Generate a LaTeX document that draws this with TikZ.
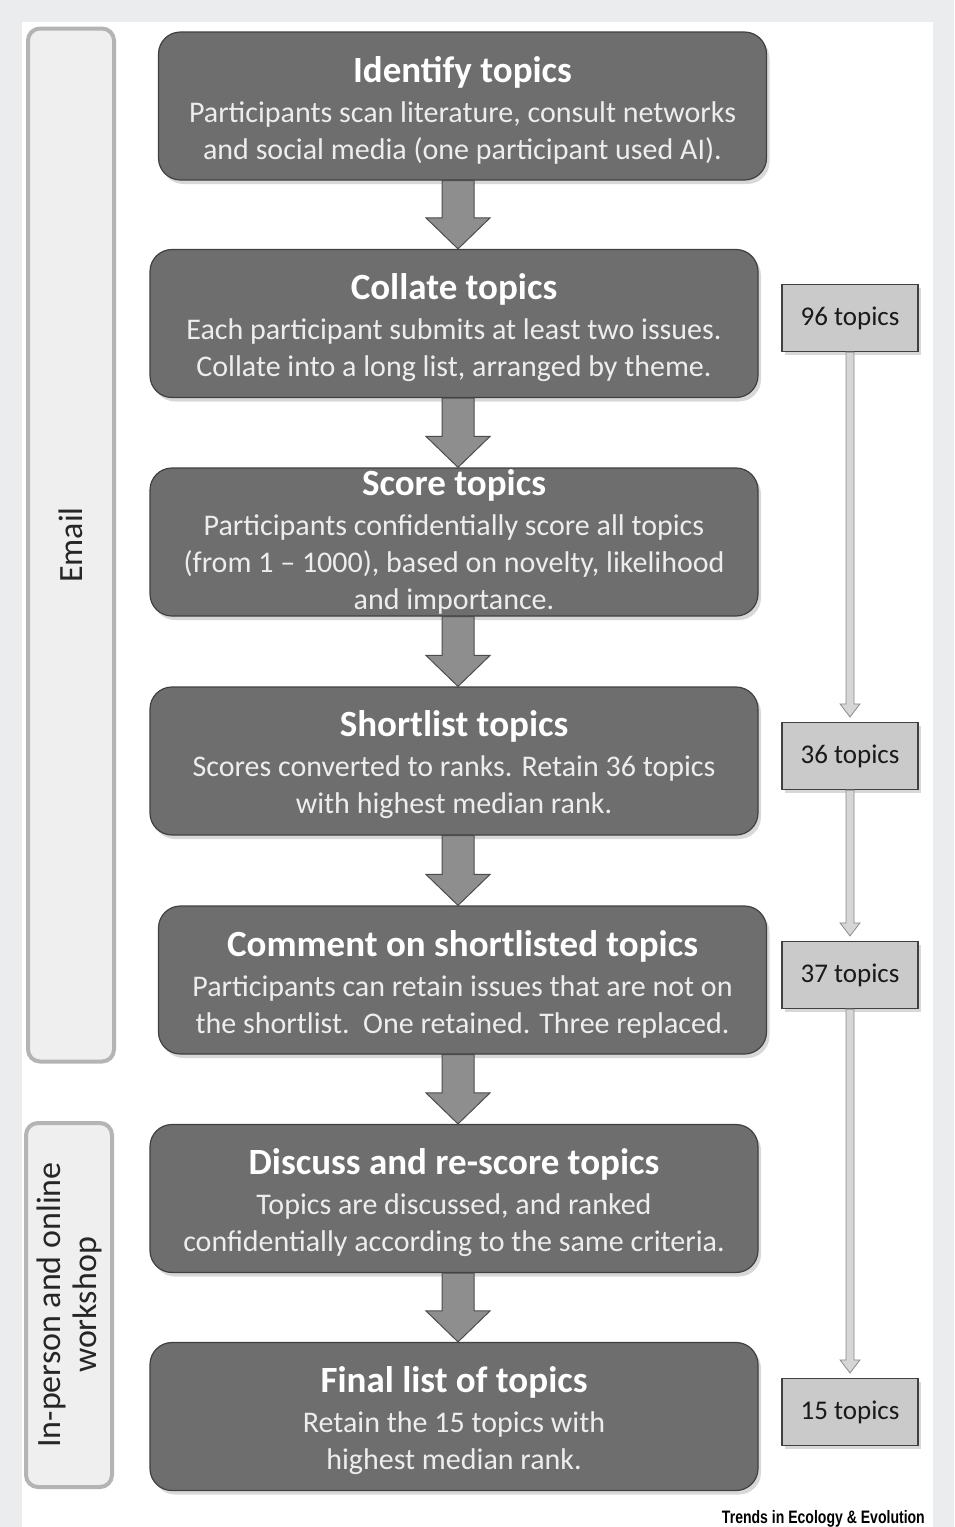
\documentclass[tikz,border=0pt]{standalone}
\usepackage{fontspec}
\setmainfont{Carlito}
\newfontfamily\footfont{Liberation Sans}
\usepackage{graphicx}
\usetikzlibrary{calc,shadows}

\definecolor{panelgray}{HTML}{EBECEE}
\definecolor{boxgray}{HTML}{6E6E6E}
\definecolor{bodytxt}{HTML}{EDEDED}
\definecolor{countgray}{HTML}{CACACA}
\definecolor{arrowgray}{HTML}{8E8E8E}
\definecolor{thingray}{HTML}{D6D6D6}
\definecolor{phasefill}{HTML}{EFEFEF}
\definecolor{phaseedge}{HTML}{B4B4B4}

\newcommand{\tighttitle}[1]{{\fontsize{37}{37}\selectfont\bfseries\color{white}#1}\\[3pt]}
\newcommand{\stagetitle}[1]{\tighttitle{\rule{0pt}{34pt}#1}}

% block arrow between two stages, along the spine
\newcommand{\flowarrow}[2]{%
  \path[bigarrow] ($(#1.south -| spine)+(-16,0)$) -- ($(#2.north -| spine)+(-16,-31)$)
    -- ($(#2.north -| spine)+(-32,-31)$) -- (#2.north -| spine)
    -- ($(#2.north -| spine)+(32,-31)$) -- ($(#2.north -| spine)+(16,-31)$)
    -- ($(#1.south -| spine)+(16,0)$) -- cycle;}

% thin arrow between two topic counts
\newcommand{\countarrow}[2]{%
  \path[thinarrow] ($(#1.south)+(-4,0)$) -- ($(#2.north)+(-4,-18)$)
    -- ($(#2.north)+(-10,-18)$) -- ($(#2.north)+(0,-5)$)
    -- ($(#2.north)+(10,-18)$) -- ($(#2.north)+(4,-18)$)
    -- ($(#1.south)+(4,0)$) -- cycle;}

\begin{document}
\begin{tikzpicture}[
    x=1pt, y=-1pt,
    stage/.style={rectangle, rounded corners=22pt, draw=black!75, line width=1.2pt,
      fill=boxgray, minimum width=608pt, minimum height=148pt, inner sep=0pt,
      align=center, text=bodytxt, font=\fontsize{30}{37}\selectfont,
      drop shadow={shadow xshift=3pt, shadow yshift=-4pt, opacity=0.3}},
    count/.style={rectangle, draw=black!75, line width=1.2pt, fill=countgray,
      minimum width=136pt, minimum height=67pt, inner sep=0pt, text=black!90,
      font=\fontsize{27}{30}\selectfont,
      drop shadow={shadow xshift=3pt, shadow yshift=-3pt, opacity=0.3}},
    phase/.style={rectangle, rounded corners=12pt, draw=phaseedge, line width=4pt,
      fill=phasefill, rotate=90, minimum height=86pt, align=center,
      text=black!85, font=\fontsize{34}{36}\selectfont},
    bigarrow/.style={fill=arrowgray, draw=black!70, line width=1pt},
    thinarrow/.style={fill=thingray, draw=black!45, line width=0.8pt},
]
\useasboundingbox (0,0) rectangle (954,1527);

% === Panel ===
\fill[panelgray] (0,0) rectangle (954,1527);
\fill[white] (22,22) rectangle (933,1527);

\coordinate (spine) at (458,0);

% === Phases (left side) ===
\node[phase, minimum width=1033pt] (email) at (71,545) {Email};
\node[phase, minimum width=364pt] (workshop) at (69,1305) {In-person and online\\workshop};

% === Stages ===
\node[stage] (identify) at (462.5,106) {\stagetitle{Identify topics}
  Participants scan literature, consult networks\\
  and social media (one participant used AI).};
\node[stage] (collate) at (454,323.5) {\stagetitle{Collate topics}
  Each participant submits at least two issues.\\
  Collate into a long list, arranged by theme.};
\node[stage] (score) at (454,542) {\tighttitle{Score topics}
  Participants confidentially score all topics\\
  (from 1 -- 1000), based on novelty, likelihood\\
  and importance.};
\node[stage] (shortlist) at (454,761) {\stagetitle{Shortlist topics}
  Scores converted to ranks. Retain 36 topics\\
  with highest median rank.};
\node[stage] (comment) at (462.5,980) {\stagetitle{Comment on shortlisted topics}
  Participants can retain issues that are not on\\
  the shortlist.\ \ One retained. Three replaced.};
\node[stage] (discuss) at (454,1198.5) {\stagetitle{Discuss and re-score topics}
  Topics are discussed, and ranked\\
  confidentially according to the same criteria.};
\node[stage] (final) at (454,1416.5) {\stagetitle{Final list of topics}
  Retain the 15 topics with\\
  highest median rank.};

% Stage arrows
\flowarrow{identify}{collate}
\flowarrow{collate}{score}
\flowarrow{score}{shortlist}
\flowarrow{shortlist}{comment}
\flowarrow{comment}{discuss}
\flowarrow{discuss}{final}

% === Topic counts (right side) ===
\node[count] (c96) at (850,318) {96 topics};
\node[count] (c36) at (850,756) {36 topics};
\node[count] (c37) at (850,975) {37 topics};
\node[count] (c15) at (850,1412) {15 topics};

\countarrow{c96}{c36}
\countarrow{c36}{c37}
\countarrow{c37}{c15}

% Journal credit
\node[anchor=east, inner sep=0pt] (credit) at (925,1519)
  {\scalebox{0.78}[1]{\footfont\fontsize{18}{18}\selectfont\bfseries Trends in Ecology \& Evolution}};

\end{tikzpicture}
\end{document}
